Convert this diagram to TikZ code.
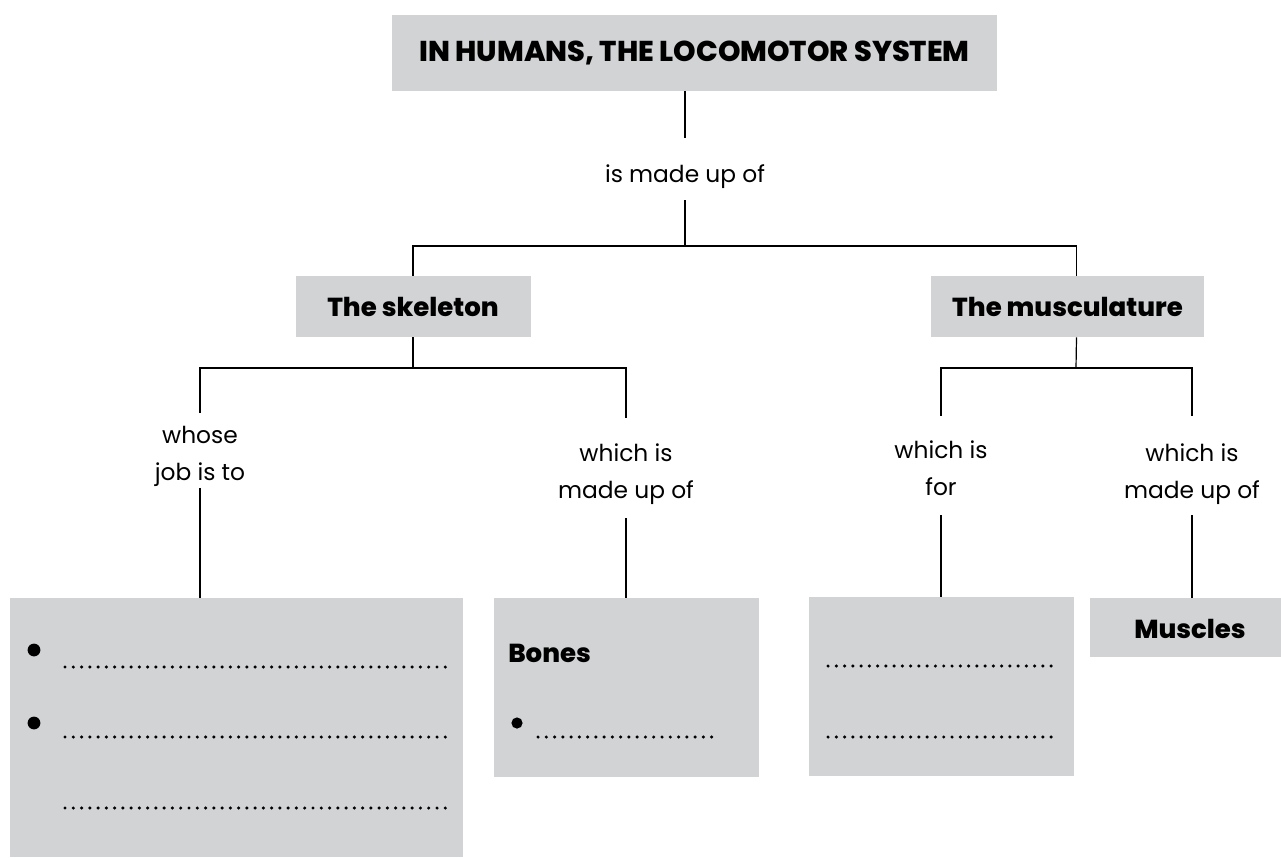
\documentclass[tikz,border=0pt]{standalone}
\usepackage{fontspec}
\setmainfont{Poppins}[BoldFont={Poppins ExtraBold}]
\usetikzlibrary{calc}
\definecolor{boxgray}{RGB}{209,211,212}
\newcommand{\lowered}[2]{\raisebox{#1}[\height][\depth]{\begin{tabular}{@{}c@{}}#2\end{tabular}}}
\begin{document}
\begin{tikzpicture}[x=0.75pt,y=-0.75pt,
  conn/.style={draw=black, line width=0.9pt},
  graybox/.style={fill=boxgray, draw=none, inner sep=0pt, align=center},
  headfont/.style={font=\fontsize{19.5}{24}\selectfont\bfseries},
  lab/.style={inner sep=0pt, align=center, font=\fontsize{17.5}{27.75}\selectfont},
  dots/.style={line width=2.6pt, line cap=round, dash pattern=on 0pt off 6.2pt},
]
\useasboundingbox (0,0) rectangle (1281,857);
\fill[white] (0,0) rectangle (1281,857);

% top
\node[graybox, minimum width=453.75pt, minimum height=57pt,
      font=\fontsize{21.5}{25}\selectfont\bfseries] (title) at (694.5,53) {IN HUMANS, THE LOCOMOTOR SYSTEM};
\node[lab, minimum height=46.5pt] (l0) at (685,169) {\lowered{-4.5pt}{is made up of}};
\coordinate (j1) at (685,246);

% level 2
\node[graybox, headfont, minimum width=176.25pt, minimum height=45.75pt] (sk) at (413,306.5) {The skeleton};
\node[graybox, headfont, minimum width=204.75pt, minimum height=45.75pt] (mu) at (1067.5,306.5) {The musculature};

% labels level 3
\node[lab, minimum height=48.75pt] (lw) at (200,450.5) {\lowered{-3pt}{whose\\job is to}};
\node[lab, minimum height=75pt] (ls) at (626,468) {\lowered{-3.75pt}{which is\\made up of}};
\node[lab, minimum height=74.25pt] (lf) at (941,465.5) {\lowered{-3pt}{which is\\for}};
\node[lab, minimum height=74.25pt] (lm) at (1192,465.5) {\lowered{-5.25pt}{which is\\made up of}};
\coordinate (j2) at (413,368);
\coordinate (j3) at (1076,368);

% bottom boxes
\node[graybox, minimum width=339.75pt, minimum height=194.25pt] (b1) at (236.5,727.5) {};
\node[graybox, minimum width=198.75pt, minimum height=134.25pt] (b2) at (626,687.5) {};
\node[graybox, minimum width=198.75pt, minimum height=134.25pt] (b3) at (941,686.5) {};
\node[graybox, minimum width=143.25pt, minimum height=44.25pt] (b4) at (1185.5,627.5) {};
\node[headfont, inner sep=0pt] (mus) at (1190,629) {Muscles};
\node[headfont, inner sep=0pt, anchor=base west] (bones) at (508,662) {Bones};

% connectors
\draw[conn] (l0.north |- title.south) -- (l0.north);
\draw[conn] (l0.south) -- (j1);
\draw[conn] (sk.north) |- (j1) -| ([xshift=6.75pt]mu.north);
\draw[conn] (sk.south) -- (j2);
\draw[conn] (lw.north) |- (j2) -| (ls.north);
\draw[conn] ([xshift=6.75pt]mu.south) -- (j3);
\draw[conn] (lf.north) |- (j3) -| (lm.north);
\draw[conn] (lw.south) -- (lw.south |- b1.north);
\draw[conn] (ls.south) -- (b2.north);
\draw[conn] (lf.south) -- (b3.north);
\draw[conn] (lm.south) -- (lm.south |- b4.north);

% box 1 contents
\fill (34,650) circle (4.8pt);
\fill (34,723) circle (4.8pt);
\draw[dots] (65,667) -- (447,667);
\draw[dots] (65,737) -- (447,737);
\draw[dots] (65,808) -- (447,808);
% box 2 contents
\fill (517,723) circle (4.2pt);
\draw[dots] (538,737) -- (713,737);
% box 3 contents
\draw[dots] (828,666) -- (1053,666);
\draw[dots] (828,737) -- (1053,737);
\end{tikzpicture}
\end{document}
